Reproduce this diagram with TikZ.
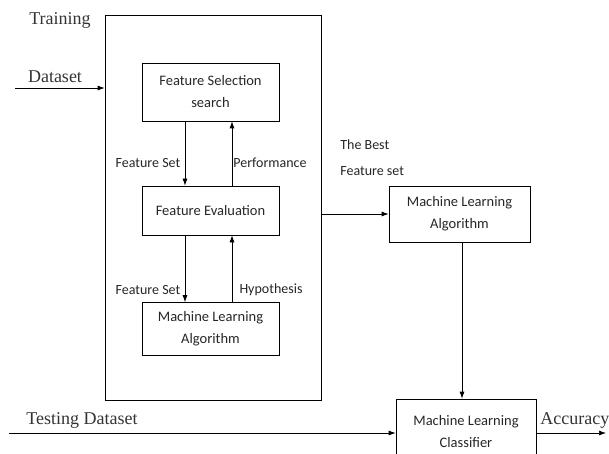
\documentclass[tikz,border=0pt]{standalone}
\usepackage{fontspec}
\setmainfont{Liberation Serif}
\newfontfamily\calfont{Carlito}
\usepackage{xcolor}
\usepackage{tikz}
\usetikzlibrary{arrows.meta}
\tikzstyle{arrow} = [-{Latex[length=7pt,width=5pt]}]
\tikzstyle{blockbox} = [draw, minimum width=137pt, align=center, text=black!85, font=\calfont\fontsize{14.5}{22}\selectfont]
\tikzstyle{lbl} = [inner sep=0pt, text=black!85, font=\calfont\fontsize{14}{26}\selectfont]
\tikzstyle{serif} = [inner sep=0pt, text=black!80, font=\fontsize{18}{20}\selectfont]

\begin{document}
\begin{tikzpicture}[x=1pt, y=-1pt, node distance=118.5pt, line width=0.7pt]
		\clip[use as bounding box] (0,0) rectangle (609,454);

		\node (frame) [draw, minimum width=216pt, minimum height=385pt] at (213,208) {};
		\node (fss) [blockbox, minimum height=58pt] at (210.5,92) {Feature Selection\\search};
		\node (feval) [blockbox, minimum height=49pt, below of=fss] {Feature Evaluation};
		\node (mlinner) [blockbox, minimum height=53pt, below of=feval] {Machine Learning\\Algorithm};
		\node (mlalg) [blockbox, minimum width=141pt, minimum height=56pt] at (459.5,214) {Machine Learning\\Algorithm};
		\node (mlcls) [blockbox, minimum width=140pt, minimum height=65pt] at (466,431.5) {Machine Learning\\Classifier};

		\node (training) [serif] at (60,20) {Training};
		\node (dataset) [serif] at (55,77) {Dataset};
		\node (testing) [serif] at (82,420) {Testing Dataset};
		\node (accuracy) [serif, anchor=west] at (540,420) {Accuracy};
		\node (fsetA) [lbl] at (148,163) {Feature Set};
		\node (perf) [lbl] at (270,163) {Performance};
		\node (fsetB) [lbl] at (148,290) {Feature Set};
		\node (hyp) [lbl] at (271,290) {Hypothesis};
		\node (best) [lbl, anchor=west, align=left] at (340,158) {The Best\\Feature set};

		\coordinate (dsin) at (15,88);
		\coordinate (tsin) at (9,433);
		\coordinate (accout) at (606,433);

		\draw [arrow] (dsin) -- (dsin -| frame.west);
		\draw [arrow] ([xshift=-25.5pt]fss.south) -- ([xshift=-25.5pt]feval.north);
		\draw [arrow] ([xshift=21.5pt]feval.north) -- ([xshift=21.5pt]fss.south);
		\draw [arrow] ([xshift=-25.5pt]feval.south) -- ([xshift=-25.5pt]mlinner.north);
		\draw [arrow] ([xshift=21.5pt]mlinner.north) -- ([xshift=21.5pt]feval.south);
		\draw [arrow] (frame.east |- mlalg.west) -- (mlalg.west);
		\draw [arrow] ([xshift=2.5pt]mlalg.south) -- ([xshift=2.5pt]mlalg.south |- mlcls.north);
		\draw [arrow] (tsin) -- (tsin -| mlcls.west);
		\draw [arrow] (mlcls.east |- accout) -- (accout);
	\end{tikzpicture}
\end{document}
